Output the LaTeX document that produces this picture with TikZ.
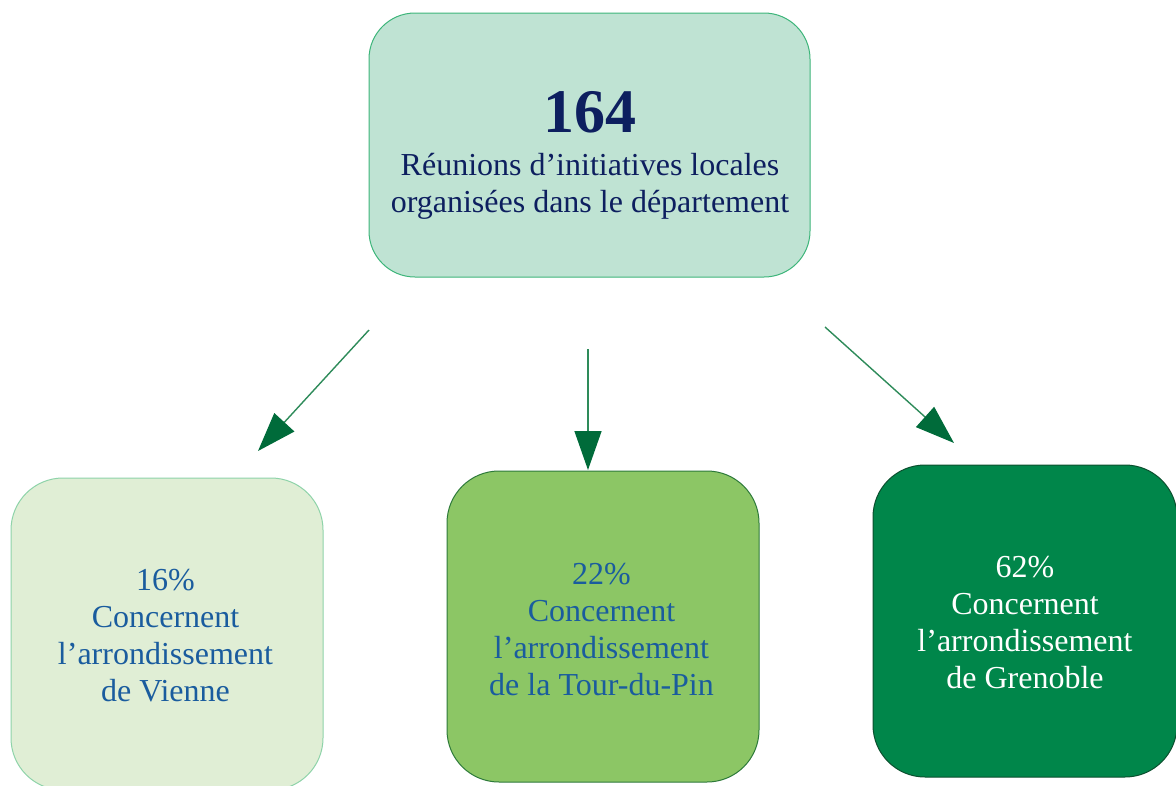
\documentclass[tikz,border=0pt]{standalone}
\usepackage{fontspec}
\setmainfont{Liberation Serif}
\usetikzlibrary{arrows.meta}
\definecolor{topfill}{HTML}{BFE3D3}
\definecolor{topdraw}{HTML}{3DB57A}
\definecolor{navy}{HTML}{0D1F5F}
\definecolor{lfill}{HTML}{E0EED5}
\definecolor{ldraw}{HTML}{8ED3A9}
\definecolor{mfill}{HTML}{8CC665}
\definecolor{mdraw}{HTML}{2D7A3A}
\definecolor{rfill}{HTML}{00864A}
\definecolor{rdraw}{HTML}{0B4F2E}
\definecolor{bluetext}{HTML}{1A5C9E}
\definecolor{arrline}{HTML}{2E8B5A}
\definecolor{arrtip}{HTML}{006B3A}
\tikzset{
  box/.style={rectangle, line width=1pt, inner sep=0pt},
  toptext/.style={font=\fontsize{32}{37}\selectfont, text=navy, align=center, inner sep=0pt},
  bottext/.style={font=\fontsize{32}{36.7}\selectfont, align=center, inner sep=0pt},
  conn/.style={draw=arrline, line width=1.4pt, -{Triangle[length=39pt,width=27pt,color=arrtip]}}
}
\begin{document}
\begin{tikzpicture}[x=1pt,y=-1pt]
\useasboundingbox (0,0) rectangle (1176,785);
\clip (0,0) rectangle (1176,785);
% top box
\node (top) [box, draw=topdraw, fill=topfill, rounded corners=46pt, minimum width=441pt, minimum height=264pt] at (589.5,145) {};
\node (n164) [inner sep=0pt, anchor=base, text=navy, font=\fontsize{62}{62}\selectfont\bfseries] at (590,132) {164};
\node (toplbl) [toptext, anchor=north] at (590,153) {Réunions d’initiatives locales\\organisées dans le département};
% bottom boxes
\node (left) [box, draw=ldraw, fill=lfill, rounded corners=52pt, minimum width=312pt, minimum height=312pt] at (167,634) {};
\node (mid) [box, draw=mdraw, fill=mfill, rounded corners=52pt, minimum width=312pt, minimum height=311pt] at (603,626.5) {};
\node (right) [box, draw=rdraw, fill=rfill, rounded corners=52pt, minimum width=304pt, minimum height=312pt] at (1025,621) {};
\node (leftlbl) [bottext, text=bluetext, anchor=north] at (165.5,569.5) {16\%\\Concernent\\l’arrondissement\\de Vienne};
\node (midlbl) [bottext, text=bluetext, anchor=north] at (601.5,563.5) {22\%\\Concernent\\l’arrondissement\\de la Tour-du-Pin};
\node (rightlbl) [bottext, text=white, anchor=north] at (1025,556.5) {62\%\\Concernent\\l’arrondissement\\de Grenoble};
% arrows
\coordinate (a1s) at (369,330);
\coordinate (a1e) at (258,451);
\coordinate (a2s) at (588,349);
\coordinate (a2e) at (588,470);
\coordinate (a3s) at (825,327);
\coordinate (a3e) at (954,443);
\draw[conn] (a1s) -- (a1e);
\draw[conn] (a2s) -- (a2e);
\draw[conn] (a3s) -- (a3e);
\end{tikzpicture}
\end{document}
